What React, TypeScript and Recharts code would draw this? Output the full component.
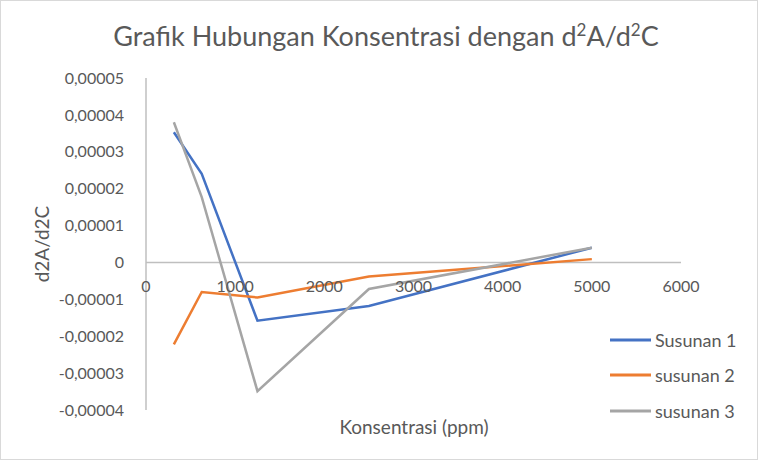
import { Line, LineChart, ReferenceLine, XAxis, YAxis } from "recharts";

const concentrations = [312.5, 625, 1250, 2500, 5000];
const susunan1 = [0.0000353, 0.000024, -0.0000158, -0.0000118, 0.000004];
const susunan2 = [-0.0000222, -0.000008, -0.0000095, -0.0000038, 0.0000009];
const susunan3 = [0.000038, 0.0000177, -0.0000349, -0.0000072, 0.000004];

const xTicks = [0, 1000, 2000, 3000, 4000, 5000, 6000];
const yTicks = [-0.00004, -0.00003, -0.00002, -0.00001, 0, 0.00001, 0.00002, 0.00003, 0.00004, 0.00005];

const seriesKeys = ["s1", "s2", "s3"];
const seriesNames = ["Susunan 1", "susunan 2", "susunan 3"];
const colors = ["#4472C4", "#ED7D31", "#A5A5A5"];

const rows = concentrations.map((x, i) => ({
  x,
  s1: susunan1[i],
  s2: susunan2[i],
  s3: susunan3[i],
}));

const textColor = "#595959";
const axisColor = "#BFBFBF";
const font = "Lato, 'Open Sans', sans-serif";

const formatY = (v: number) => (v === 0 ? "0" : v.toFixed(5).replace(".", ","));

// x labels sit under the zero line, like Excel's "axis crosses at 0"
const XTick = (props: any) => {
  const { x, y, payload } = props;
  return (
    <text x={x} y={y - 120} textAnchor="middle" fill={textColor} fontSize={16} fontFamily={font}>
      {payload.value}
    </text>
  );
};

export default function App() {
  return (
    <div
      style={{
        position: "fixed",
        left: 0,
        top: 0,
        width: 758,
        height: 460,
        boxSizing: "border-box",
        border: "1px solid #D9D9D9",
        background: "#fff",
        fontFamily: font,
      }}
    >
      <div
        style={{
          position: "absolute",
          top: 18,
          left: 0,
          width: 770,
          textAlign: "center",
          fontSize: 27,
          color: textColor,
        }}
      >
        Grafik Hubungan Konsentrasi dengan d<sup style={{ fontSize: 17 }}>2</sup>A/d
        <sup style={{ fontSize: 17 }}>2</sup>C
      </div>
      <div
        style={{
          position: "absolute",
          left: 40,
          top: 243,
          transform: "translate(-50%, -50%) rotate(-90deg)",
          fontSize: 19,
          color: textColor,
          whiteSpace: "nowrap",
        }}
      >
        d2A/d2C
      </div>
      <div
        style={{
          position: "absolute",
          left: 413,
          top: 425,
          transform: "translate(-50%, -50%)",
          fontSize: 19,
          color: textColor,
          whiteSpace: "nowrap",
        }}
      >
        Konsentrasi (ppm)
      </div>
      <div style={{ position: "absolute", left: 0, top: 0 }}>
        <LineChart width={758} height={460} data={rows} margin={{ top: 77, right: 78, bottom: 31, left: 0 }}>
          <XAxis
            dataKey="x"
            type="number"
            domain={[0, 6000]}
            ticks={xTicks}
            height={20}
            axisLine={false}
            tickLine={false}
            tickSize={0}
            tick={<XTick />}
            interval={0}
          />
          <YAxis
            type="number"
            domain={[-0.00004, 0.00005]}
            ticks={yTicks}
            width={145}
            interval={0}
            tickFormatter={formatY}
            tickSize={0}
            tickMargin={22}
            tickLine={false}
            axisLine={{ stroke: axisColor, strokeWidth: 1.5 }}
            tick={{ fill: textColor, fontSize: 16, fontFamily: font }}
          />
          <ReferenceLine y={0} stroke={axisColor} strokeWidth={1.5} />
          {seriesKeys.map((key, i) => (
            <Line
              key={key}
              dataKey={key}
              name={seriesNames[i]}
              stroke={colors[i]}
              strokeWidth={2.5}
              dot={false}
              type="linear"
              isAnimationActive={false}
            />
          ))}
        </LineChart>
      </div>
      <div
        style={{
          position: "absolute",
          left: 609,
          top: 321,
          fontSize: 18,
          color: textColor,
        }}
      >
        {seriesNames.map((name, i) => (
          <div key={name} style={{ display: "flex", alignItems: "center", height: 35.5 }}>
            <svg width={45} height={6}>
              <line x1={0} y1={3} x2={41} y2={3} stroke={colors[i]} strokeWidth={3} />
            </svg>
            <span>{name}</span>
          </div>
        ))}
      </div>
    </div>
  );
}
